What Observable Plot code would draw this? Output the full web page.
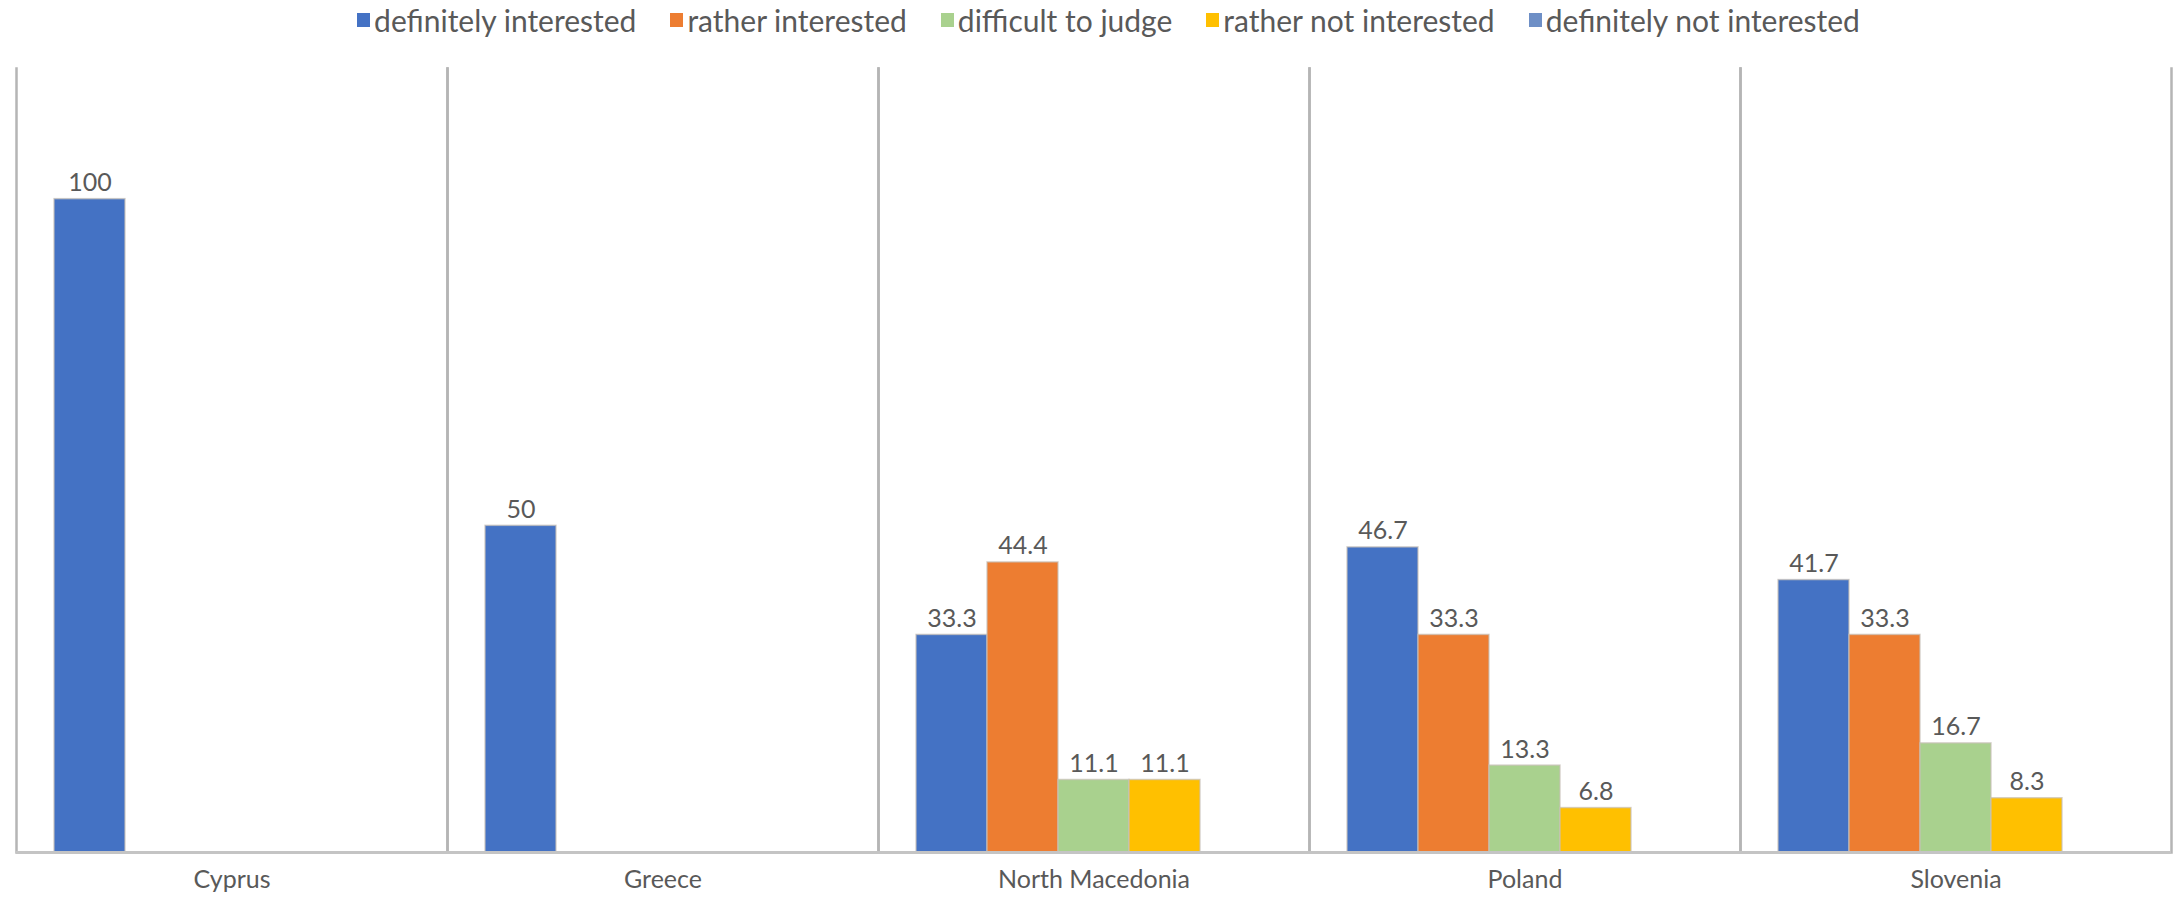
<!DOCTYPE html>
<html>
<head>
<meta charset="utf-8">
<script src="https://cdn.jsdelivr.net/npm/d3@7"></script>
<script src="https://cdn.jsdelivr.net/npm/@observablehq/plot@0.6"></script>
<style>
  html, body { margin: 0; padding: 0; background: #fff; }
  #legend { height: 44px; box-sizing: border-box; padding-bottom: 5px; display: flex; justify-content: center; align-items: center; gap: 34px; padding-left: 42px;
    font-family: Lato, "Open Sans", sans-serif; font-size: 30px; color: #595959; }
  #legend .item { display: flex; align-items: center; white-space: nowrap; }
  #legend .sw { width: 13px; height: 14px; margin-right: 4px; display: inline-block; }
</style>
</head>
<body>
<div id="legend"></div>
<div id="chart"></div>
<script>
const countries = ["Cyprus", "Greece", "North Macedonia", "Poland", "Slovenia"];
const series = ["definitely interested", "rather interested", "difficult to judge", "rather not interested", "definitely not interested"];
const colors = ["#4472C4", "#ED7D31", "#A9D18E", "#FFC000", "#6E8FC6"];
const definitelyInterested = [100, 50, 33.3, 46.7, 41.7];
const ratherInterested = [0, 0, 44.4, 33.3, 33.3];
const difficultToJudge = [0, 0, 11.1, 13.3, 16.7];
const ratherNotInterested = [0, 0, 11.1, 6.8, 8.3];
const definitelyNotInterested = [0, 0, 0, 0, 0];

const seriesValues = [definitelyInterested, ratherInterested, difficultToJudge, ratherNotInterested, definitelyNotInterested];
const data = [];
countries.forEach((c, ci) => series.forEach((s, si) => data.push({country: c, series: s, value: seriesValues[si][ci]})));
const shown = data.filter(d => d.value > 0);

// legend
const leg = document.getElementById("legend");
series.forEach((s, i) => {
  const it = document.createElement("div"); it.className = "item";
  const sw = document.createElement("span"); sw.className = "sw"; sw.style.background = colors[i];
  it.appendChild(sw); it.appendChild(document.createTextNode(s));
  leg.appendChild(it);
});

const chart = Plot.plot({
  width: 2175,
  height: 854,
  marginTop: 24,
  marginBottom: 46,
  marginLeft: 15,
  marginRight: 3,
  style: {fontFamily: "Lato, 'Open Sans', sans-serif", fontSize: "25px", color: "#595959", background: "#fff"},
  fx: {domain: countries, padding: 0, label: null, axis: null},
  x: {domain: series, paddingInner: 0, paddingOuter: 0.5, axis: null},
  y: {domain: [0, 120], axis: null},
  color: {domain: series, range: colors},
  marks: [
    Plot.frame({anchor: "left", stroke: "#b5b5b5", strokeWidth: 2.5}),
    Plot.frame({anchor: "right", stroke: "#b5b5b5", strokeWidth: 2.5}),
    Plot.barY(shown, {fx: "country", x: "series", y: "value", fill: "series", stroke: "#c8c0b8", strokeWidth: 1.5, strokeOpacity: 0.7}),
    Plot.ruleY([0], {stroke: "#c4c4c4", strokeWidth: 3}),
    Plot.text(shown, {fx: "country", x: "series", y: "value", text: d => d.value, dy: -16, fontSize: 25, fill: "#595959"}),
    Plot.axisFx({anchor: "bottom", label: null, tickSize: 0, tickPadding: 18, fontSize: 25, fill: "#595959"})
  ]
});
document.getElementById("chart").appendChild(chart);
</script>
</body>
</html>
